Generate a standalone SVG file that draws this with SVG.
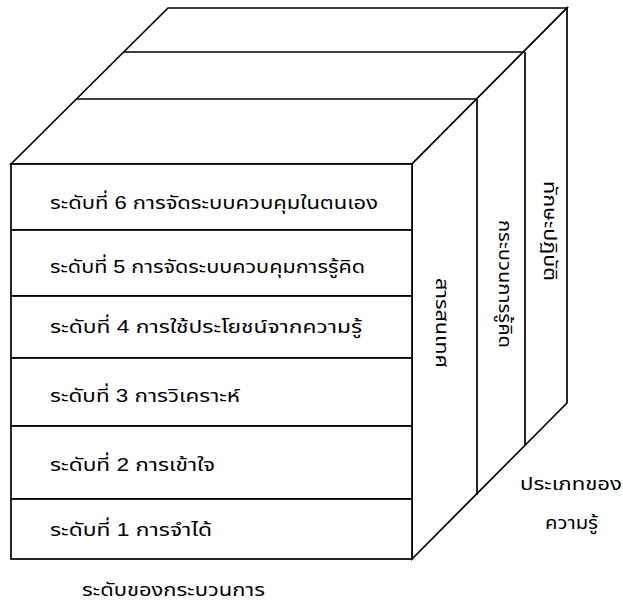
<svg xmlns="http://www.w3.org/2000/svg" width="623" height="603" viewBox="0 0 623 603">
<style>
.ln{fill:none;stroke:#000;stroke-width:1.7;stroke-linejoin:miter}
.bx{fill:#fff;stroke:#000;stroke-width:1.7}
.t{font-family:"Liberation Sans","Noto Sans Thai","Noto Sans",Tahoma,sans-serif;font-size:18.5px;fill:#000}
.m{text-anchor:middle}
</style>
<rect width="623" height="603" fill="#fff"/>
<g id="cube-top">
<polygon class="bx" points="11,164 168,8 567,8 412,164"/>
<line class="ln" x1="124" y1="52" x2="524" y2="52"/>
<line class="ln" x1="76" y1="99" x2="477" y2="99"/>
</g>
<g id="cube-side">
<polygon class="bx" points="412,164 567,8 567,403 412,559"/>
<line class="ln" x1="477" y1="99" x2="477" y2="495"/>
<line class="ln" x1="525" y1="52" x2="525" y2="446"/>
</g>
<g id="col-1"><text class="t m" transform="translate(436,323) rotate(90)" textLength="90" lengthAdjust="spacingAndGlyphs">สารสนเทศ</text></g>
<g id="col-2"><text class="t m" transform="translate(499,284) rotate(90)" textLength="128" lengthAdjust="spacingAndGlyphs">กระบวนการรู้คิด</text></g>
<g id="col-3"><text class="t m" transform="translate(544,231) rotate(90)" textLength="100" lengthAdjust="spacingAndGlyphs">ทักษะปฏิบัติ</text></g>
<g id="level-6"><rect class="bx" x="11" y="164" width="401" height="66"/><text class="t" x="50" y="209" textLength="328" lengthAdjust="spacingAndGlyphs">ระดับที่ 6 การจัดระบบควบคุมในตนเอง</text></g>
<g id="level-5"><rect class="bx" x="11" y="230" width="401" height="66"/><text class="t" x="50" y="273" textLength="315" lengthAdjust="spacingAndGlyphs">ระดับที่ 5 การจัดระบบควบคุมการรู้คิด</text></g>
<g id="level-4"><rect class="bx" x="11" y="296" width="401" height="62"/><text class="t" x="50" y="333" textLength="312" lengthAdjust="spacingAndGlyphs">ระดับที่ 4 การใช้ประโยชน์จากความรู้</text></g>
<g id="level-3"><rect class="bx" x="11" y="358" width="401" height="68"/><text class="t" x="50" y="402" textLength="190" lengthAdjust="spacingAndGlyphs">ระดับที่ 3 การวิเคราะห์</text></g>
<g id="level-2"><rect class="bx" x="11" y="426" width="401" height="73"/><text class="t" x="50" y="471" textLength="165" lengthAdjust="spacingAndGlyphs">ระดับที่ 2 การเข้าใจ</text></g>
<g id="level-1"><rect class="bx" x="11" y="499" width="401" height="60"/><text class="t" x="50" y="536" textLength="162" lengthAdjust="spacingAndGlyphs">ระดับที่ 1 การจำได้</text></g>
<g id="connectors"></g>
<g id="labels">
<text class="t" x="82" y="596" textLength="183" lengthAdjust="spacingAndGlyphs">ระดับของกระบวนการ</text>
<text class="t" x="520" y="490" textLength="102" lengthAdjust="spacingAndGlyphs">ประเภทของ</text>
<text class="t" x="545" y="529" textLength="53" lengthAdjust="spacingAndGlyphs">ความรู้</text>
</g>
</svg>
